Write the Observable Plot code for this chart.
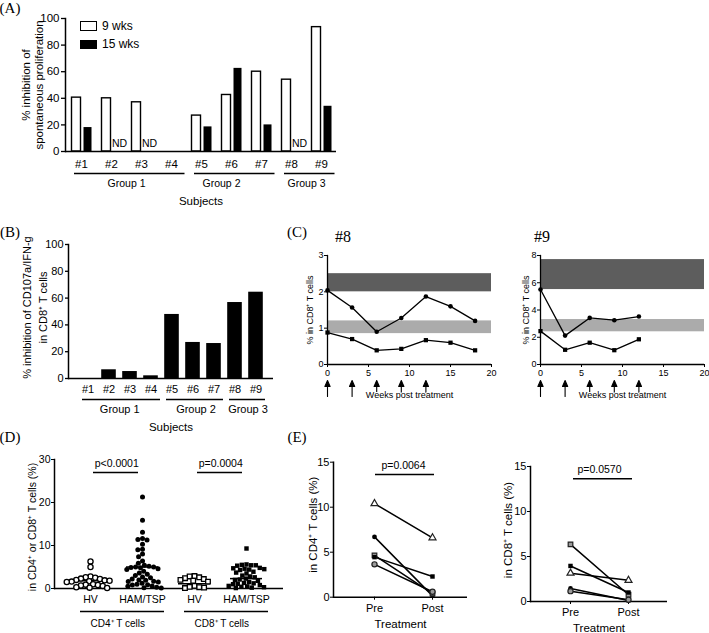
<!DOCTYPE html>
<html><head><meta charset="utf-8">
<script src="https://cdn.jsdelivr.net/npm/d3@7"></script>
<script src="https://cdn.jsdelivr.net/npm/@observablehq/plot@0.6"></script>
<style>
body{margin:0;background:#fff;}
#fig{position:relative;width:709px;height:633px;overflow:hidden;background:#fff;font-family:"Liberation Sans",Arial,sans-serif;color:#000;}
#fig svg{position:absolute;left:0;top:0;}
.lbl{position:absolute;transform:translate(-50%,-50%);white-space:nowrap;line-height:1;}
.serif{font-family:"Liberation Serif","DejaVu Serif",serif;}
.box{position:absolute;box-sizing:border-box;border:1.5px solid #000;}
</style></head><body><div id="fig"></div>
<script>
// ---------------- DATA ----------------
// Panel A / B
const subjects = ["#1","#2","#3","#4","#5","#6","#7","#8","#9"];
const inhibA9wk = [40.5, 40, 37, null, 27, 42.5, 60, 54, 93.5];
const inhibA15wk = [18, null, null, null, 18.5, 62.5, 20, null, 34];
const ndSubjects = ["#2","#3","#8"];
const inhibB = [0, 6.5, 5.2, 2, 47.8, 26.9, 26.1, 56.7, 64.4];
const groupNames = ["Group 1","Group 2","Group 3"];
const groupFirst = ["#1","#5","#8"];
const groupLast = ["#4","#7","#9"];
const groupLabelAt = ["#2","#6","#8"];
const yTicksAB = [0,20,40,60,80,100];
const legendA = ["9 wks","15 wks"];

// Panel C
const weeks8 = [0,3,6,9,12,15,18];
const s8circle = [2.04, 1.57, 0.9, 1.28, 1.87, 1.6, 1.2];
const s8square = [0.88, 0.7, 0.39, 0.43, 0.67, 0.6, 0.39];
const weeks9 = [0,3,6,9,12];
const s9circle = [5.5, 2.12, 3.42, 3.25, 3.52];
const s9square = [2.45, 1.08, 1.6, 1.05, 1.85];
const treatWeeks = [0,3,6,9,12];
const band8Dark = [2.0, 2.5], band8Light = [0.85, 1.2];
const band9Dark = [5.5, 7.7], band9Light = [2.4, 3.3];
const weekTicks = [0,5,10,15,20];

// Panel D
const dCats = ["HV CD4","HAM CD4","HV CD8","HAM CD8"];
const dTickLabels = ["HV","HAM/TSP","HV","HAM/TSP"];
const hvCD4 = [6.3, 5.0, 2.8, 2.6, 2.5, 2.3, 2.2, 2.0, 1.9, 1.8, 1.7, 1.6, 1.5, 1.0, 0.9, 0.8, 0.7, 0.6, 0.3, 0.2, 0.1];
const hamCD4 = [21.3, 15.9, 13.1, 11.6, 11.4, 11.3, 10.3, 9.1, 9.0, 8.0, 7.4, 6.4, 5.9,
  5.4, 5.2, 5.0, 5.0, 4.9, 4.8, 4.6, 4.4, 4.0, 3.6, 3.3, 3.0, 2.7, 2.5,
  2.2, 2.0, 1.9, 1.7, 1.6, 1.5, 1.2, 1.0, 0.9, 0.8, 0.6, 0.5, 0.3, 0.2, 0.1];
const hvCD8 = [2.9, 2.8, 2.6, 2.4, 2.2, 2.0, 1.8, 1.6, 0.6, 0.4, 0.3, 0.2, 0.1];
const hamCD8 = [9.3, 5.6, 5.5, 5.4, 5.4, 5.3, 4.8, 4.7, 4.6, 4.5, 4.4, 4.3, 3.9, 3.7, 3.5,
  3.0, 2.8, 2.6, 2.3, 2.1, 2.0, 1.8, 1.5, 1.3, 1.2, 1.1, 1.0, 0.8, 0.6, 0.5, 0.4, 0.3, 0.2, 0.1];
const dMeans = [1.8, 5.0, 1.1, 2.3];
const dPLabels = ["p<0.0001","p=0.0004"];
const dPFrom = ["HV CD4","HV CD8"];
const dPTo = ["HAM CD4","HAM CD8"];
const dGroupNames = ["CD4\u207A T cells","CD8\u207A T cells"];

// Panel E
const eSubjects = ["S1","S2","S3","S4","S5"];
const eTimes = ["Pre","Post"];
const cd4Pre = [10.4, 6.7, 4.65, 4.45, 3.65];
const cd4Post = [6.6, 0.15, 0.4, 2.3, 0.6];
const cd8Pre = [3.15, 1.45, 6.35, 3.95, 1.15];
const cd8Post = [2.35, 0.1, 0.75, 1.0, 0.2];
const eTicks = [0,5,10,15];

// ---------------- STYLE / HELPERS ----------------
const FONT = "'Liberation Sans', Arial, Helvetica, sans-serif";
const W = 709, H = 633;
const DARK = "#5d5d5d", LIGHT = "#ababab", GREY = "#9a9a9a";
const fig = document.getElementById("fig");
function box(l, r, t, b) { return {width: W, height: H, marginLeft: l, marginRight: W - r, marginTop: t, marginBottom: H - b}; }
function sty(fs) { return {background: "transparent", overflow: "visible", fontFamily: FONT, fontSize: fs + "px", color: "#000"}; }
function put(node) { fig.appendChild(node); }
function label(text, x, y, css, cls) {
  const d = document.createElement("div");
  d.className = "lbl" + (cls ? " " + cls : "");
  d.textContent = text;
  d.style.left = x + "px"; d.style.top = y + "px";
  Object.assign(d.style, css || {});
  fig.appendChild(d);
}
function rectDiv(x, y, w, h, bg) {
  const d = document.createElement("div");
  d.className = "box";
  Object.assign(d.style, {left: x + "px", top: y + "px", width: w + "px", height: h + "px", background: bg});
  fig.appendChild(d);
}
const markerStyle = {
  S1: {symbol: "triangle", fill: "white", r: 2.6},
  S2: {symbol: "circle", fill: "black", r: 2.4},
  S3: {symbol: "square", fill: GREY, r: 2.6},
  S4: {symbol: "square", fill: "black", r: 2.5},
  S5: {symbol: "circle", fill: GREY, r: 2.6}
};
const plain = d => String(d);
// filled-head arrow for the treatment markers
const filledArrow = {
  draw(context, l) {
    context.moveTo(0, 0);
    context.lineTo(0, -l + 5);
    context.moveTo(-2.6, -l + 6);
    context.lineTo(0, -l);
    context.lineTo(2.6, -l + 6);
    context.closePath();
  }
};

// ---------------- PANEL A ----------------
{
  const step = (336 - 65) / 9;
  const labelDx = [step / 2, -10, step / 2];
  put(Plot.plot({
    ...box(65, 336, 18, 151),
    style: sty(11.5),
    x: {domain: subjects, padding: 0},
    y: {domain: [0, 100]},
    marks: [
      Plot.barY(subjects, {x: subjects, y: inhibA9wk, fill: "white", stroke: "black", strokeWidth: 1.4, insetLeft: 5.5, insetRight: 15.5}),
      Plot.barY(subjects, {x: subjects, y: inhibA15wk, fill: "black", insetLeft: 17.5, insetRight: 4.5}),
      Plot.text(ndSubjects, {x: d => d, y: d => 0, text: d => "ND", dx: 8, dy: -8, fontSize: 10.5}),
      Plot.ruleY([0], {strokeWidth: 1.5}),
      Plot.frame({anchor: "left", strokeWidth: 1.5}),
      Plot.axisY({ticks: yTicksAB, tickFormat: plain, tickSize: 4, tickPadding: 2, label: null, strokeWidth: 1.3, fontSize: 11.5}),
      Plot.axisX({tickSize: 0, tickPadding: 8, label: null, fontSize: 11.5}),
      Plot.ruleY(groupNames, {x1: groupFirst, x2: groupLast, y: d => 0, dy: 22, insetLeft: 8, insetRight: 1.5, strokeWidth: 1.5}),
      ...groupNames.map((g, i) => Plot.text([g], {x: [groupLabelAt[i]], y: [0], dx: labelDx[i], dy: 32, fontSize: 10.5})),
      Plot.text(["Subjects"], {frameAnchor: "bottom", dy: 50, lineAnchor: "middle", fontSize: 11.5}),
      Plot.text(["% inhibition of\nspontaneous proliferation"], {frameAnchor: "left", rotate: -90, dx: -33.5, textAnchor: "middle", lineAnchor: "middle", lineHeight: 1.15, fontSize: 11.5})
    ]
  }));
  rectDiv(80, 21, 17, 10, "white");
  rectDiv(80, 39.5, 17, 9.5, "black");
  label(legendA[0], 102, 26, {transform: "translate(0,-50%)", fontSize: "12px"});
  label(legendA[1], 102, 44, {transform: "translate(0,-50%)", fontSize: "12px"});
}

// ---------------- PANEL B ----------------
{
  const step = (268 - 75) / 9;
  const labelDx = [step / 2, 3, 13];
  put(Plot.plot({
    ...box(68, 273, 244, 378),
    style: sty(11),
    x: {domain: subjects, range: [75, 268], padding: 0},
    y: {domain: [0, 100]},
    marks: [
      Plot.barY(subjects, {x: subjects, y: inhibB, fill: "black", insetLeft: 3.2, insetRight: 3.2}),
      Plot.ruleY([0], {strokeWidth: 1.5}),
      Plot.frame({anchor: "left", strokeWidth: 1.5}),
      Plot.axisY({ticks: yTicksAB, tickFormat: plain, tickSize: 3, tickPadding: 2, label: null, strokeWidth: 1.3, fontSize: 11}),
      Plot.axisX({tickSize: 0, tickPadding: 7, label: null, fontSize: 11}),
      Plot.ruleY(groupNames, {x1: groupFirst, x2: groupLast, y: d => 0, dy: 21, insetLeft: 5, insetRight: 1, strokeWidth: 1.5}),
      ...groupNames.map((g, i) => Plot.text([g], {x: [groupLabelAt[i]], y: [0], dx: labelDx[i], dy: 31, fontSize: 11})),
      Plot.text(["Subjects"], {frameAnchor: "bottom", dy: 49, lineAnchor: "middle", fontSize: 11.5}),
      Plot.text(["% inhibition of CD107a/IFN-g\nin CD8\u207A T cells"], {frameAnchor: "left", rotate: -90, dx: -34.5, dy: -4, textAnchor: "middle", lineAnchor: "middle", lineHeight: 1.45, fontSize: 11})
    ]
  }));
}

// ---------------- PANEL C ----------------
function panelC(l, r, yMax, yTicks, weeks, circ, sq, dark, light, labDx) {
  return Plot.plot({
    ...box(l, r, 255, 364),
    style: sty(9),
    x: {domain: [0, 20]},
    y: {domain: [0, yMax]},
    marks: [
      Plot.rect([dark], {x1: d => 0, x2: d => 20, y1: d => d[0], y2: d => d[1], fill: DARK}),
      Plot.rect([light], {x1: d => 0, x2: d => 20, y1: d => d[0], y2: d => d[1], fill: LIGHT}),
      Plot.ruleY([0], {strokeWidth: 1.3}),
      Plot.frame({anchor: "left", strokeWidth: 1.3}),
      Plot.axisY({ticks: yTicks, tickFormat: plain, tickSize: 3, tickPadding: 1, label: null, fontSize: 9}),
      Plot.axisX({ticks: weekTicks, tickFormat: plain, tickSize: 3, tickPadding: 2, label: null, fontSize: 9}),
      Plot.line(circ, {x: weeks, y: circ, stroke: "black", strokeWidth: 1.3}),
      Plot.line(sq, {x: weeks, y: sq, stroke: "black", strokeWidth: 1.3}),
      Plot.dot(circ, {x: weeks, y: circ, r: 2.3, fill: "black", symbol: "circle"}),
      Plot.dot(sq, {x: weeks, y: sq, r: 2.4, fill: "black", symbol: "square"}),
      Plot.vector(treatWeeks, {x: d => d, frameAnchor: "bottom", dy: 32, length: 16, anchor: "start", shape: filledArrow, stroke: "black", fill: "black", strokeWidth: 1.1}),
      Plot.text(["Weeks post treatment"], {frameAnchor: "bottom", dy: 30.5, lineAnchor: "middle", fontSize: 9, stroke: "white", strokeWidth: 2, paintOrder: "stroke", fill: "black"}),
      Plot.text(["% in CD8\u207A T cells"], {frameAnchor: "left", rotate: -90, dx: labDx, textAnchor: "middle", lineAnchor: "middle", fontSize: 9})
    ]
  });
}
put(panelC(327, 491, 3, [0,1,2,3], weeks8, s8circle, s8square, band8Dark, band8Light, -17));
put(panelC(540, 704, 8, [0,2,4,6,8], weeks9, s9circle, s9square, band9Dark, band9Light, -14));

// ---------------- PANEL D ----------------
{
  const step = (273 - 63) / 4;
  put(Plot.plot({
    ...box(54, 283, 459, 588),
    style: sty(10.5),
    x: {domain: dCats, range: [63, 273], padding: 0},
    y: {domain: [0, 30]},
    marks: [
      Plot.ruleY([0], {strokeWidth: 1.5}),
      Plot.frame({anchor: "left", strokeWidth: 1.5}),
      Plot.axisY({ticks: [0,10,20,30], tickFormat: plain, tickSize: 3, tickPadding: 1, label: null, fontSize: 10.5}),
      Plot.axisX({tickSize: 0, tickPadding: 7.5, label: null, fontSize: 10.5, tickFormat: d => dTickLabels[dCats.indexOf(d)]}),
      Plot.tickY(dMeans, {x: dCats, y: dMeans, insetLeft: 10, insetRight: 10, strokeWidth: 1.5}),
      Plot.ruleY(dPLabels, {x1: dPFrom, x2: dPTo, y: d => 30, dy: 13, insetLeft: 29, insetRight: 30, strokeWidth: 1.5}),
      Plot.text(dPLabels, {x: dPFrom, y: d => 30, dx: step / 2, dy: 4, fontSize: 10.5}),
      Plot.ruleY(dGroupNames, {x1: [dCats[0], dCats[2]], x2: [dCats[1], dCats[3]], y: d => 0, dy: 23, insetLeft: 16, insetRight: 4, strokeWidth: 1.5}),
      Plot.text(dGroupNames, {x: [dCats[0], dCats[2]], y: d => 0, dx: step / 2 + 1, dy: 35, fontSize: 10}),
      Plot.text(["in CD4\u207A or CD8\u207A T cells (%)"], {frameAnchor: "left", rotate: -90, dx: -22, dy: 3, textAnchor: "middle", lineAnchor: "middle", fontSize: 10.5})
    ]
  }));
  const swarm = (vals, cat, opts) => Plot.dot(vals, Plot.dodgeX({anchor: "middle", padding: -0.3}, {fx: vals.map(() => cat), y: vals, r: opts.r, symbol: opts.symbol, fill: opts.fill, stroke: opts.stroke, strokeWidth: opts.sw}));
  put(Plot.plot({
    ...box(63, 273, 459, 588),
    style: sty(10),
    fx: {domain: dCats, padding: 0, axis: null},
    y: {domain: [0, 30], axis: null},
    marks: [
      swarm(hvCD4, dCats[0], {r: 2.6, symbol: "circle", fill: "white", stroke: "black", sw: 1.3}),
      swarm(hamCD4, dCats[1], {r: 2.5, symbol: "circle", fill: "black", stroke: "none", sw: 0}),
      swarm(hvCD8, dCats[2], {r: 2.6, symbol: "square", fill: "white", stroke: "black", sw: 1.3}),
      swarm(hamCD8, dCats[3], {r: 2.5, symbol: "square", fill: "black", stroke: "none", sw: 0})
    ]
  }));
}

// ---------------- PANEL E ----------------
function panelE(l, r, t, b, range, pre, post, pLabel, yLabel, pInL, pInR, labDx, labDy, tDy) {
  const rows = [];
  eSubjects.forEach((s, i) => { rows.push({subject: s, time: eTimes[0], value: pre[i]}); rows.push({subject: s, time: eTimes[1], value: post[i]}); });
  return Plot.plot({
    ...box(l, r, t, b),
    style: sty(11),
    x: {type: "point", domain: eTimes, range: range, padding: 0},
    y: {domain: [0, 15]},
    marks: [
      Plot.ruleY([0], {strokeWidth: 1.5}),
      Plot.frame({anchor: "left", strokeWidth: 1.5}),
      Plot.axisY({ticks: eTicks, tickFormat: plain, tickSize: 3, tickPadding: 1, label: null, fontSize: 11}),
      Plot.axisX({tickSize: 3, tickPadding: 3.5, label: null, fontSize: 11}),
      Plot.line(rows, {x: "time", y: "value", z: "subject", stroke: "black", strokeWidth: 1.5}),
      ...eSubjects.map(s => Plot.dot(rows.filter(d => d.subject === s), {x: "time", y: "value", symbol: markerStyle[s].symbol, r: markerStyle[s].r, fill: markerStyle[s].fill, stroke: markerStyle[s].fill === "black" ? "none" : "#222", strokeWidth: 1.2})),
      Plot.ruleY([pLabel], {x1: [eTimes[0]], x2: [eTimes[1]], y: d => 15, dy: 12.3, insetLeft: pInL, insetRight: pInR, strokeWidth: 1.5}),
      Plot.text([pLabel], {x: [eTimes[0]], y: d => 15, dx: (range[1] - range[0]) / 2, dy: 3.3, fontSize: 10.5}),
      Plot.text(["Treatment"], {frameAnchor: "bottom", dy: tDy, lineAnchor: "middle", fontSize: 11.5}),
      Plot.text([yLabel], {frameAnchor: "left", rotate: -90, dx: labDx, dy: labDy, textAnchor: "middle", lineAnchor: "middle", fontSize: 11.5})
    ]
  });
}
put(panelE(333, 467, 461.7, 596.7, [374, 432], cd4Pre, cd4Post, "p=0.0064", "in CD4\u207A T cells (%)", 1, -2, -20, -5, 27));
put(panelE(530, 667, 466, 601, [570, 628], cd8Pre, cd8Post, "p=0.0570", "in CD8\u207A T cells (%)", 3, -4, -22, -4, 26.5));

// ---------------- PANEL LETTERS / TITLES ----------------
const serif14 = {fontSize: "15px"};
label("(A)", 10, 8, serif14, "serif");
label("(B)", 10, 232, serif14, "serif");
label("(C)", 297, 232, serif14, "serif");
label("(D)", 10, 437, serif14, "serif");
label("(E)", 297, 437, serif14, "serif");
label("#8", 343, 237, {fontSize: "16px"}, "serif");
label("#9", 542, 237, {fontSize: "16px"}, "serif");
</script></body></html>
